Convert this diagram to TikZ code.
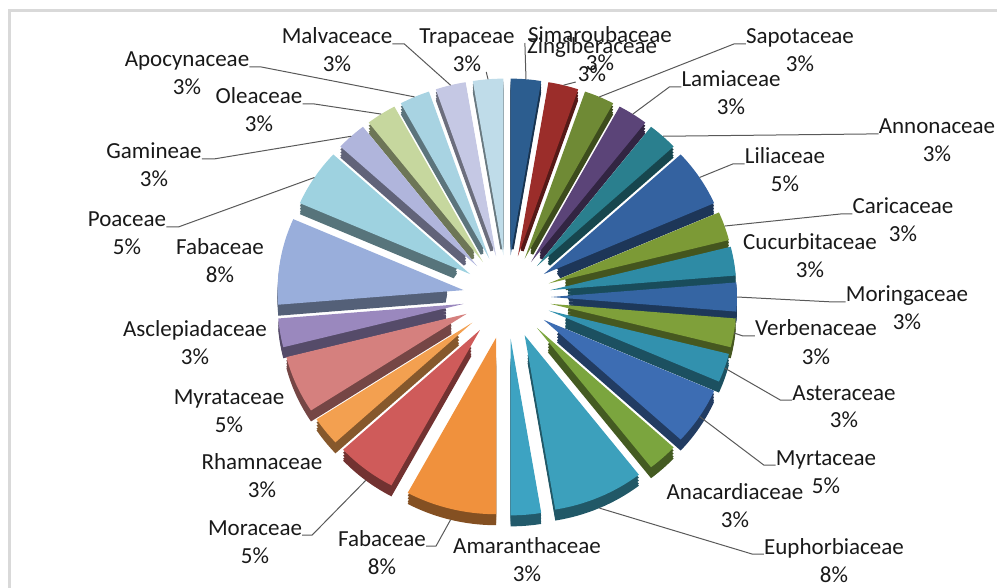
\documentclass[tikz,border=0pt]{standalone}
\usepackage{fontspec}
\setmainfont{Carlito}
\usetikzlibrary{calc}
\definecolor{colSim}{HTML}{2C5D8F}
\definecolor{colZin}{HTML}{9B2D2A}
\definecolor{colSap}{HTML}{6F8A35}
\definecolor{colLam}{HTML}{5B4478}
\definecolor{colAnn}{HTML}{2A7F8E}
\definecolor{colLil}{HTML}{3462A0}
\definecolor{colCar}{HTML}{7C9A36}
\definecolor{colCuc}{HTML}{2E8BA5}
\definecolor{colMor}{HTML}{3565A3}
\definecolor{colVer}{HTML}{7FA03A}
\definecolor{colAst}{HTML}{3291AE}
\definecolor{colMyr}{HTML}{3D6DB3}
\definecolor{colAna}{HTML}{7BA53E}
\definecolor{colEup}{HTML}{3CA0BC}
\definecolor{colAma}{HTML}{3DA3C2}
\definecolor{colFabB}{HTML}{F0913D}
\definecolor{colMora}{HTML}{CF5B5A}
\definecolor{colRha}{HTML}{F3A050}
\definecolor{colMyra}{HTML}{D5807E}
\definecolor{colAsc}{HTML}{9A88BE}
\definecolor{colFabL}{HTML}{99AEDB}
\definecolor{colPoa}{HTML}{9ED2E0}
\definecolor{colGam}{HTML}{B0B5DC}
\definecolor{colOle}{HTML}{C6D79E}
\definecolor{colApo}{HTML}{A8D3E2}
\definecolor{colMal}{HTML}{C5C8E4}
\definecolor{colTra}{HTML}{BFDCE9}

\begin{document}
\begin{tikzpicture}[x=1pt, y=1pt,
  famname/.style={anchor=base, inner sep=0pt, font=\fontsize{23}{28}\selectfont, text=black!90},
  leader/.style={draw=black!65, line width=1pt},
  frame/.style={draw=black!15, line width=3pt}
]
  \clip (0,0) rectangle (997,-588);
  \draw[frame] (9,-11) rectangle (1010,-600);

  % pie geometry
  \coordinate (C) at (507,-297);
  \def\pu{9.4737}
  \def\pe{44}
  \def\pr{186}
  \def\pk{0.95}
  \def\pin{18}
  \pgfmathsetmacro\pey{\pe*\pk}
  \pgfmathsetmacro\pry{\pr*\pk}
  \pgfmathsetmacro\piny{\pin*\pk}
  \pgfmathsetmacro\prin{\pr-\pin}
  \pgfmathsetmacro\priny{\prin*\pk}
  \pgfmathsetmacro\ptx{\pe+\pr}
  \pgfmathsetmacro\pty{\pey+\pry}

  % first unit / units / colour, clockwise from the top
  \def\slicelist{0/1/colSim, 1/1/colZin, 2/1/colSap, 3/1/colLam, 4/1/colAnn,
    5/2/colLil, 7/1/colCar, 8/1/colCuc, 9/1/colMor, 10/1/colVer, 11/1/colAst,
    12/2/colMyr, 14/1/colAna, 15/3/colEup, 18/1/colAma, 19/3/colFabB,
    22/2/colMora, 24/1/colRha, 25/2/colMyra, 27/1/colAsc, 28/3/colFabL,
    31/2/colPoa, 33/1/colGam, 34/1/colOle, 35/1/colApo, 36/1/colMal, 37/1/colTra}

  % side faces
  \foreach \s/\n/\c [count=\i] in \slicelist {
    \pgfmathsetmacro\as{90-\s*\pu}
    \pgfmathsetmacro\ae{90-(\s+\n)*\pu}
    \pgfmathsetmacro\ab{(\as+\ae)/2}
    \pgfmathsetmacro\aback{\ae+180}
    \path (C) ++({\ab}:{\pe} and {\pey}) coordinate (apex\i);
    \foreach \t in {3,6,9,11}
      \fill[\c!55!black] (apex\i) ++(0,-\t) ++({\as}:{\pin} and {\piny})
        -- ++({\as}:{\prin} and {\priny})
        arc[start angle=\as, end angle=\ae, x radius=\pr, y radius=\pry]
        -- ++({\aback}:{\prin} and {\priny}) -- cycle;
  }

  % top faces
  \foreach \s/\n/\c [count=\i] in \slicelist {
    \pgfmathsetmacro\as{90-\s*\pu}
    \pgfmathsetmacro\ae{90-(\s+\n)*\pu}
    \pgfmathsetmacro\ab{(\as+\ae)/2}
    \fill[\c] (apex\i) -- ++({\as}:{\pr} and {\pry})
      arc[start angle=\as, end angle=\ae, x radius=\pr, y radius=\pry] -- cycle;
    \path (C) ++({\ab}:{\ptx} and {\pty}) coordinate (tip\i);
  }

  % labels
  \foreach \nm/\x/\y/\txt/\pc in {
    Apo/187/67/Apocynaceae/3, Ole/259/104/Oleaceae/3, Gam/154/159/Gamineae/3,
    Poa/127/227/Poaceae/5, FabL/220/255/Fabaceae/8, Asc/195/337/Asclepiadaceae/3,
    Myra/229/404/Myrataceae/5, Rha/262/469/Rhamnaceae/3, Mora/255/535/Moraceae/5,
    FabB/382/546/Fabaceae/8, Ama/527/553/Amaranthaceae/3, Mal/337/44/Malvaceace/3,
    Tra/467/44/Trapaceae/3, Sim/600/43/Simaroubaceae/3, Zin/592/54/Zingiberaceae/3,
    Sap/800/44/Sapotaceae/3, Lam/731/87/Lamiaceae/3, Ann/937/134/Annonaceae/3,
    Lil/785/164/Liliaceae/5, Car/903/214/Caricaceae/3, Cuc/810/250/Cucurbitaceae/3,
    Mor/907/302/Moringaceae/3, Ver/816/336/Verbenaceae/3, Ast/844/400/Asteraceae/3,
    Myr/826/465/Myrtaceae/5, Ana/735/499/Anacardiaceae/3, Eup/834/554/Euphorbiaceae/8} {
    \node[famname] (n\nm) at (\x,-\y) {\txt};
    \node[famname] (p\nm) at ([yshift=-28pt]n\nm.base) {\pc\%};
  }

  % leader lines
  \draw[leader] (nApo.base east) -- ++(12,0) -- (tip25);
  \draw[leader] (nOle.base east) -- ++(12,0) -- (tip24);
  \draw[leader] (nGam.base east) -- ++(12,0) -- (tip23);
  \draw[leader] (nPoa.base east) -- ++(12,0) -- (tip22);
  \draw[leader] (nMora.base east) -- ++(10,0) -- ([yshift=-11pt]tip17);
  \draw[leader] (nFabB.base east) -- ++(10,0) -- ([yshift=-11pt]tip16);
  \draw[leader] (nMal.base east) -- ++(12,0) -- (tip26);
  \draw[leader] ([xshift=5pt]pTra.base east) -- (tip27);
  \draw[leader] ([xshift=-3pt]nSim.base west) -- (tip1);
  \draw[leader] (tip2) -- ([xshift=-2pt]pZin.base west);
  \draw[leader] (nSap.base west) -- ++(-12,0) -- (tip3);
  \draw[leader] (nLam.base west) -- ++(-12,0) -- (tip4);
  \draw[leader] (nAnn.base west) -- ++(-12,0) -- (tip5);
  \draw[leader] (nLil.base west) -- ++(-12,0) -- (tip6);
  \draw[leader] (nCar.base west) -- ++(-12,0) -- (tip7);
  \draw[leader] (nMor.base west) -- ++(-12,0) -- (tip9);
  \draw[leader] (nVer.base west) -- ++(-12,0) -- (tip10);
  \draw[leader] (nAst.base west) -- ++(-12,0) -- (tip11);
  \draw[leader] (nMyr.base west) -- ++(-12,0) -- (tip12);
  \draw[leader] (nEup.base west) -- ++(-12,0) -- ([yshift=-11pt]tip14);
\end{tikzpicture}
\end{document}
